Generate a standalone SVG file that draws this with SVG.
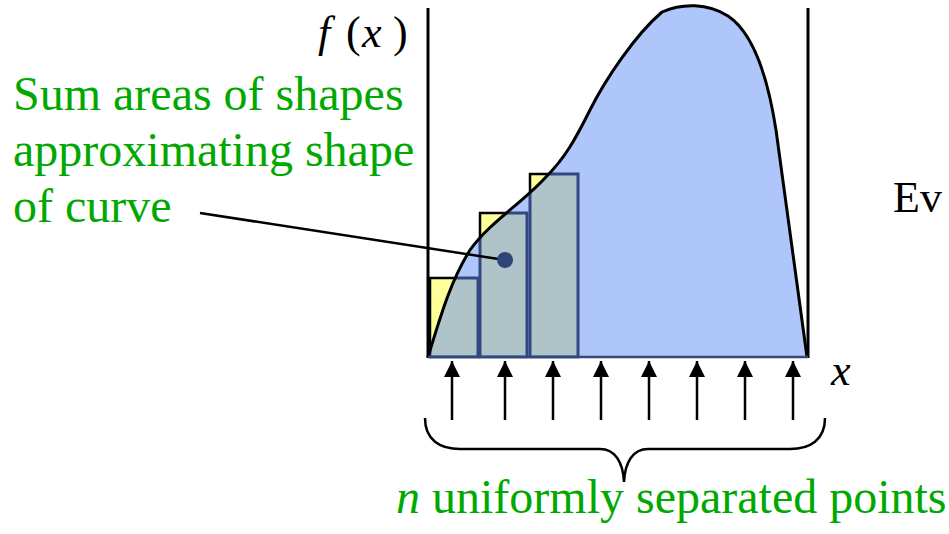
<svg xmlns="http://www.w3.org/2000/svg" width="949" height="534" viewBox="0 0 949 534">
<style>
.lbl{font-family:"Liberation Serif","Times New Roman",serif;font-size:48px;fill:#00a800}
.math{font-family:"Liberation Serif","Times New Roman",serif;font-size:44px;fill:#000;font-style:italic}
.yel{fill:#ffff99;stroke:#000;stroke-width:2.5}
.teal{fill:#afc4c8;stroke:#324880;stroke-width:3}
.arr{stroke:#000;stroke-width:2.5;fill:none}
</style>
<defs>
<clipPath id="under">
<path d="M428,357 C440,318 450,282 470,250 C490,222 520,205 545,178 C565,158 575,140 590,110 C605,80 635,35 662,12 C682,3 708,3 728,16 C752,32 767,72 776,130 C786,200 795,270 807,357 Z"/>
</clipPath>
<marker id="ah" markerUnits="userSpaceOnUse" markerWidth="18" markerHeight="18" viewBox="0 0 18 18" refX="16" refY="9" orient="auto">
<path d="M0,1 L16,9 L0,17 Z" fill="#000"/>
</marker>
</defs>
<g id="yellow-rects">
<rect class="yel" x="430" y="278" width="48" height="79"/>
<rect class="yel" x="480" y="213" width="47" height="144"/>
<rect class="yel" x="530" y="174" width="48" height="183"/>
</g>
<g id="area">
<path d="M428,357 C440,318 450,282 470,250 C490,222 520,205 545,178 C565,158 575,140 590,110 C605,80 635,35 662,12 C682,3 708,3 728,16 C752,32 767,72 776,130 C786,200 795,270 807,357 Z" fill="#aec6fa"/>
</g>
<g id="approx-rects" clip-path="url(#under)">
<rect class="teal" x="430" y="278" width="48" height="79"/>
<rect class="teal" x="480" y="213" width="47" height="144"/>
<rect class="teal" x="530" y="174" width="48" height="183"/>
</g>
<g id="curve">
<path d="M428,357 C440,318 450,282 470,250 C490,222 520,205 545,178 C565,158 575,140 590,110 C605,80 635,35 662,12 C682,3 708,3 728,16 C752,32 767,72 776,130 C786,200 795,270 807,357" fill="none" stroke="#000" stroke-width="3"/>
</g>
<g id="axes">
<line x1="428" y1="8" x2="428" y2="358" stroke="#000" stroke-width="3"/>
<line x1="808" y1="8" x2="808" y2="358" stroke="#000" stroke-width="3"/>
<line x1="428" y1="357" x2="808" y2="357" stroke="#324880" stroke-width="2.5"/>
<text class="math" x="318" y="47">f</text>
<text class="math" x="346" y="47" style="font-style:normal">(</text>
<text class="math" x="362" y="47">x</text>
<text class="math" x="393" y="47" style="font-style:normal">)</text>
<text class="math" x="831" y="385">x</text>
</g>
<g id="connectors">
<line x1="200" y1="213" x2="505" y2="260" stroke="#000" stroke-width="2.5"/>
<circle cx="505" cy="260" r="8" fill="#2f4478"/>
<g class="arr">
<line x1="452" y1="420" x2="452" y2="361" marker-end="url(#ah)"/>
<line x1="505" y1="420" x2="505" y2="361" marker-end="url(#ah)"/>
<line x1="553" y1="420" x2="553" y2="361" marker-end="url(#ah)"/>
<line x1="601" y1="420" x2="601" y2="361" marker-end="url(#ah)"/>
<line x1="649" y1="420" x2="649" y2="361" marker-end="url(#ah)"/>
<line x1="697" y1="420" x2="697" y2="361" marker-end="url(#ah)"/>
<line x1="745" y1="420" x2="745" y2="361" marker-end="url(#ah)"/>
<line x1="793" y1="420" x2="793" y2="361" marker-end="url(#ah)"/>
</g>
<path d="M425,418 C425,440 440,449 460,449 L600,449 C615,449 623,462 624,482 C625,462 633,449 648,449 L790,449 C810,449 825,440 825,418" fill="none" stroke="#000" stroke-width="2.5"/>
</g>
<g id="labels">
<text class="lbl" x="13" y="110">Sum areas of shapes</text>
<text class="lbl" x="13" y="166">approximating shape</text>
<text class="lbl" x="13" y="222">of curve</text>
<text class="lbl" x="396" y="513"><tspan font-style="italic">n</tspan> uniformly separated points</text>
<text x="893" y="212" style="font-family:'Liberation Serif','Times New Roman',serif;font-size:44px;fill:#000">Ev</text>
</g>
</svg>
